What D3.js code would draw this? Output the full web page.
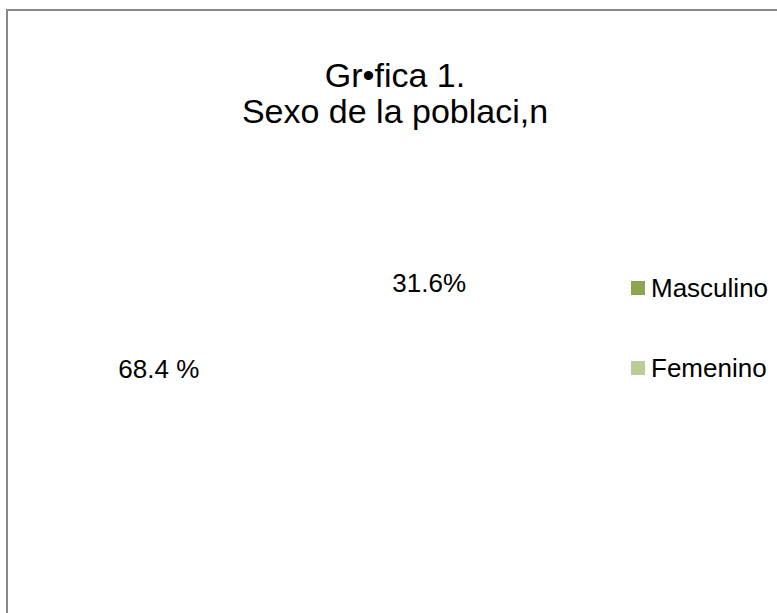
<!DOCTYPE html>
<html lang="es">
<head>
    <meta charset="utf-8" />
    <title>Gráfica 1. Sexo de la población</title>
    <script src="https://d3js.org/d3.v7.min.js"></script>
    <style>
        body { margin: 0; background: #fff; }
        text { font-family: "Liberation Sans", Arial, sans-serif; fill: #000; }
    </style>
</head>
<body>
    <script>
        // datos
        var categorias = ["Masculino", "Femenino"];
        var valores = [68.4, 31.6];
        var etiquetas = ["68.4 %", "31.6%"];
        var colores = ["#8ca54f", "#b9cd96"];
        var titulo = ["Gr\u2022fica 1.", "Sexo de la poblaci,n"];

        var width = 777;
        var height = 613;

        var svg = d3.select("body")
            .append("svg")
            .attr("width", width)
            .attr("height", height);

        // marco del grafico
        svg.append("rect")
            .attr("x", 7)
            .attr("y", 10)
            .attr("width", 820)
            .attr("height", 700)
            .attr("fill", "#fff")
            .attr("stroke", "#888")
            .attr("stroke-width", 2);

        // titulo
        svg.append("g")
            .selectAll("text")
            .data(titulo)
            .enter().append("text")
            .attr("x", 395)
            .attr("y", function (d, i) { return 87 + i * 36; })
            .attr("text-anchor", "middle")
            .style("font-size", "34px")
            .text(function (d) { return d; });

        // pastel (las porciones salen en blanco, solo se ven las etiquetas)
        var cx = 294, cy = 326;
        var a0 = 129.1 * Math.PI / 180;
        var pie = d3.pie().sort(null).startAngle(a0).endAngle(a0 + 2 * Math.PI);
        var arcos = pie(valores);
        var arc = d3.arc().innerRadius(0).outerRadius(190);
        var arcEtiqueta = d3.arc().innerRadius(142).outerRadius(142);

        var g = svg.append("g").attr("transform", "translate(" + cx + "," + cy + ")");

        g.selectAll("path")
            .data(arcos)
            .enter().append("path")
            .attr("d", arc)
            .attr("fill", "#fff");

        g.selectAll("text")
            .data(arcos)
            .enter().append("text")
            .attr("transform", function (d) { return "translate(" + arcEtiqueta.centroid(d) + ")"; })
            .attr("text-anchor", "middle")
            .attr("dy", "0.35em")
            .style("font-size", "26px")
            .text(function (d, i) { return etiquetas[i]; });

        // leyenda
        var leyenda = svg.append("g")
            .selectAll("g")
            .data(categorias)
            .enter().append("g")
            .attr("transform", function (d, i) { return "translate(631," + (281 + i * 80) + ")"; });

        leyenda.append("rect")
            .attr("width", 14)
            .attr("height", 14)
            .attr("fill", function (d, i) { return colores[i]; });

        leyenda.append("text")
            .attr("x", 20)
            .attr("y", 7)
            .attr("dy", "0.35em")
            .style("font-size", "26px")
            .text(function (d) { return d; });
    </script>
</body>
</html>
